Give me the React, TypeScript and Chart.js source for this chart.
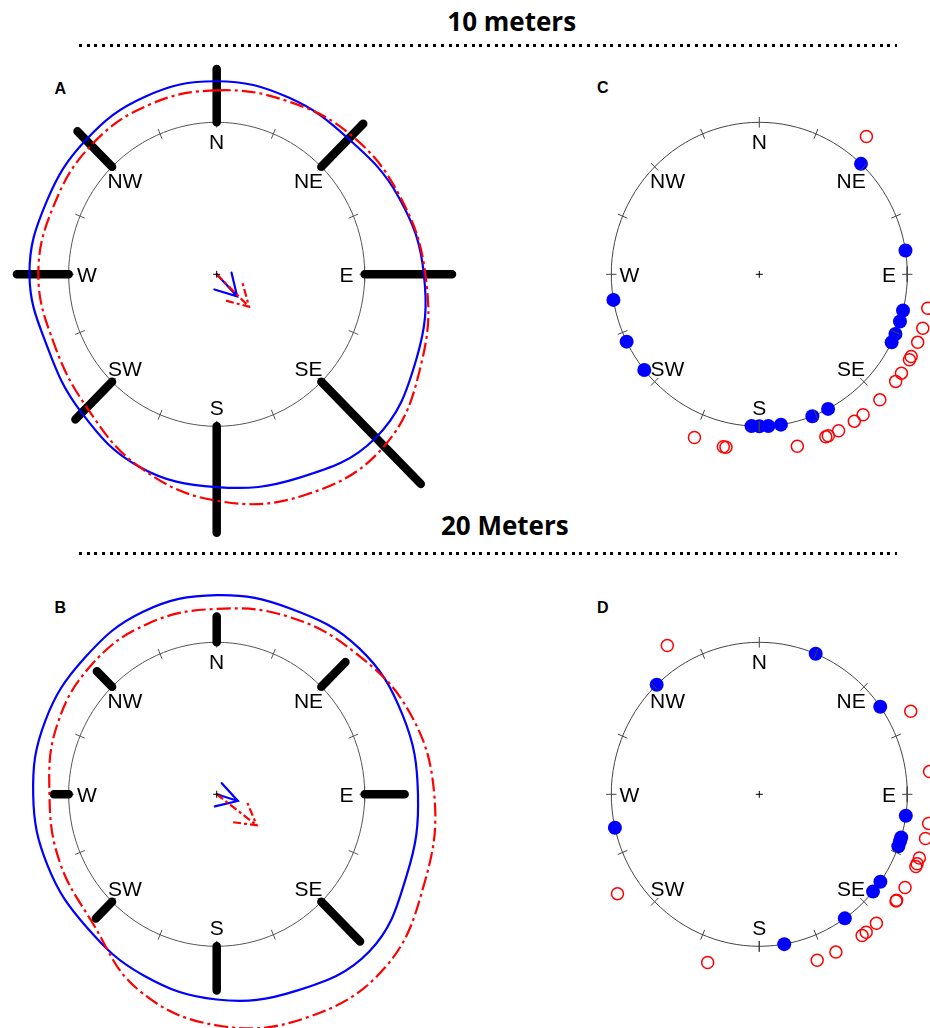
import React, { useEffect, useRef } from "react";
import { Chart, registerables } from "chart.js";

Chart.register(...registerables);

// ---------------- data ----------------
const compassLabels = ["N", "NE", "E", "SE", "S", "SW", "W", "NW"];
const compassBearings = [0, 45, 90, 135, 180, 225, 270, 315];
const tickBearings = [0, 22.5, 45, 67.5, 90, 112.5, 135, 157.5, 180, 202.5, 225, 247.5, 270, 292.5, 315, 337.5];
const curveBearings = [0, 22.5, 45, 67.5, 90, 112.5, 135, 157.5, 180, 202.5, 225, 247.5, 270, 292.5, 315, 337.5];

// Panel A (10 m): rose bar lengths beyond the unit circle, kernel densities, mean vectors
const roseA = [0.35, 0.4, 0.59, 0.95, 0.7, 0.35, 0.35, 0.33];
const blueDensityA = [1.27, 1.26, 1.26, 1.33, 1.4, 1.46, 1.52, 1.45, 1.4, 1.37, 1.29, 1.24, 1.265, 1.245, 1.25, 1.265];
const redDensityA = [1.21, 1.235, 1.29, 1.34, 1.41, 1.5, 1.6, 1.57, 1.49, 1.37, 1.24, 1.19, 1.205, 1.19, 1.2, 1.205];
const meanBearingsA = [136.4, 134.3]; // blue, red
const meanLengthsA = [0.2, 0.305];

// Panel B (20 m)
const roseB = [0.17, 0.23, 0.27, 0.37, 0.29, 0.155, 0.1, 0.145];
const blueDensityB = [1.31, 1.32, 1.36, 1.36, 1.36, 1.39, 1.46, 1.4, 1.35, 1.29, 1.24, 1.235, 1.24, 1.255, 1.265, 1.3];
const redDensityB = [1.22, 1.265, 1.32, 1.41, 1.47, 1.52, 1.61, 1.59, 1.52, 1.39, 1.19, 1.15, 1.13, 1.17, 1.2, 1.215];
const meanBearingsB = [107, 127];
const meanLengthsB = [0.15, 0.338];

// Panel C (10 m): raw directions
const blueDirsC = [43.4, 81, 103.8, 108.1, 113.1, 116.6, 152.3, 159, 171.6, 176.5, 180, 183, 231, 243.7, 260.3];
const redDirsC = [38.6, 101.1, 107.8, 112.7, 117.8, 119, 124.1, 127.4, 135.4, 142.8, 146.4, 152.5, 156.3, 157.2, 167.2, 191.2, 192.1, 202.2];

// Panel D (20 m)
const blueDirsD = [22.4, 54.8, 98.1, 106.5, 108, 110, 125.1, 129.8, 144.7, 170.3, 257.3, 316.1];
const redDirsD = [61.9, 82.6, 99.5, 104.5, 111.2, 113.2, 114.2, 121.9, 126.9, 127.2, 137, 141.5, 143.2, 153.5, 160.3, 197.5, 235.7, 327.6];

const outerRingRadius = 1.16;

// ---------------- helpers ----------------
const RX = 148;
const RY = 152;
const BLUE = "#0000ff";
const RED = "#ff0000";
const RED_DASH = [14, 4, 3, 4];

const rad = (b: number) => (b * Math.PI) / 180;
const pol = (b: number, r: number) => ({ x: r * Math.sin(rad(b)), y: r * Math.cos(rad(b)) });
const GAP = { x: NaN, y: NaN };

function circlePts() {
  const pts: any[] = [];
  for (let b = 0; b <= 360; b += 3) pts.push(pol(b, 1));
  return pts;
}
function tickPts() {
  const pts: any[] = [];
  tickBearings.forEach((b) => {
    pts.push(pol(b, 0.965), pol(b, 1.035), GAP);
  });
  return pts;
}
function rosePts(lengths: number[]) {
  const pts: any[] = [];
  compassBearings.forEach((b, i) => {
    pts.push(pol(b, 1), pol(b, 1 + lengths[i]), GAP);
  });
  return pts;
}
function curvePts(radii: number[]) {
  return curveBearings.map((b, i) => pol(b, radii[i]));
}
function arrowPts(bearing: number, length: number) {
  const tip = pol(bearing, length);
  const a1 = pol(bearing + 180 - 30, 0.16);
  const a2 = pol(bearing + 180 + 30, 0.16);
  return [
    { x: 0, y: 0 },
    tip,
    GAP,
    { x: tip.x + a1.x, y: tip.y + a1.y },
    tip,
    { x: tip.x + a2.x, y: tip.y + a2.y },
  ];
}

function lineDs(data: any[], color: string, width: number, extra: any = {}) {
  return {
    data,
    borderColor: color,
    backgroundColor: color,
    borderWidth: width,
    pointRadius: 0,
    pointHoverRadius: 0,
    fill: false,
    tension: 0,
    ...extra,
  };
}

function centerDs() {
  return {
    data: [{ x: 0, y: 0 }],
    showLine: false,
    pointStyle: "cross",
    pointRadius: 3.5,
    pointBorderColor: "#000",
    pointBorderWidth: 1,
    pointBackgroundColor: "#000",
  };
}

function roseDatasets(rose: number[], blueD: number[], redD: number[], mb: number[], ml: number[]) {
  return [
    lineDs(circlePts(), "#555", 1),
    lineDs(tickPts(), "#555", 1),
    lineDs(rosePts(rose), "#000", 8.5, { borderCapStyle: "round" }),
    lineDs(curvePts(blueD), BLUE, 2.2, { tension: 0.4, closed: true }),
    lineDs(curvePts(redD), RED, 2.2, { tension: 0.4, closed: true, borderDash: RED_DASH }),
    lineDs(arrowPts(mb[0], ml[0]), BLUE, 2.2, { borderCapStyle: "round" }),
    lineDs(arrowPts(mb[1], ml[1]), RED, 2.2, { borderDash: [8, 3, 3, 3] }),
    centerDs(),
  ];
}

function pointDatasets(blueDirs: number[], redDirs: number[]) {
  return [
    lineDs(circlePts(), "#444", 1),
    {
      data: redDirs.map((b) => pol(b, outerRingRadius)),
      showLine: false,
      pointRadius: 6,
      pointHoverRadius: 6,
      pointBackgroundColor: "rgba(0,0,0,0)",
      pointBorderColor: RED,
      pointBorderWidth: 1.5,
    },
    {
      data: blueDirs.map((b) => pol(b, 1)),
      showLine: false,
      pointRadius: 7,
      pointHoverRadius: 7,
      pointBackgroundColor: BLUE,
      pointBorderColor: BLUE,
      pointBorderWidth: 0,
    },
    lineDs(tickPts(), "#444", 1),
    centerDs(),
  ];
}

const loopPlugin = {
  id: "closedLoops",
  afterDatasetsUpdate(chart: any) {
    chart.data.datasets.forEach((ds: any, i: number) => {
      if (ds.closed) {
        const line = chart.getDatasetMeta(i).dataset;
        if (line) {
          line._loop = true;
          line._fullLoop = true;
          line._pointsUpdated = false;
          line._path = undefined;
          line._segments = undefined;
        }
      }
    });
  },
};

const labelPlugin = {
  id: "compassLabels",
  beforeDatasetsDraw(chart: any) {
    const ctx = chart.ctx;
    const xs = chart.scales.x;
    const ys = chart.scales.y;
    const size = 21;
    ctx.save();
    ctx.font = `${size}px "Liberation Sans", Arial, Helvetica, sans-serif`;
    ctx.fillStyle = "#000";
    ctx.textAlign = "center";
    ctx.textBaseline = "alphabetic";
    compassLabels.forEach((lab, i) => {
      const p = pol(compassBearings[i], 0.877);
      ctx.fillText(lab, xs.getPixelForValue(p.x), ys.getPixelForValue(p.y) + size * 0.716 * 0.5);
    });
    ctx.restore();
  },
};

type Spec = { left: number; top: number; w: number; h: number; cx: number; cy: number; kind: string };

const panels: Spec[] = [
  { kind: "A", left: 0, top: 50, w: 470, h: 500, cx: 216.7, cy: 274.3 },
  { kind: "B", left: 0, top: 570, w: 470, h: 458, cx: 216.7, cy: 794.3 },
  { kind: "C", left: 580, top: 60, w: 350, h: 420, cx: 759.3, cy: 274.3 },
  { kind: "D", left: 580, top: 580, w: 350, h: 440, cx: 759.3, cy: 794.3 },
];

function datasetsFor(kind: string) {
  let ds: any[];
  if (kind === "A") ds = roseDatasets(roseA, blueDensityA, redDensityA, meanBearingsA, meanLengthsA);
  else if (kind === "B") ds = roseDatasets(roseB, blueDensityB, redDensityB, meanBearingsB, meanLengthsB);
  else if (kind === "C") ds = pointDatasets(blueDirsC, redDirsC);
  else ds = pointDatasets(blueDirsD, redDirsD);
  // array order = drawing order (first drawn at the bottom)
  return ds.map((d, i) => ({ ...d, order: ds.length - i }));
}

function PolarPanel({ spec }: { spec: Spec }) {
  const ref = useRef<HTMLCanvasElement | null>(null);
  useEffect(() => {
    if (!ref.current) return;
    const chart = new Chart(ref.current, {
      type: "line",
      data: { datasets: datasetsFor(spec.kind) as any },
      options: {
        animation: false,
        responsive: false,
        maintainAspectRatio: false,
        devicePixelRatio: 1,
        events: [],
        layout: { padding: 0, autoPadding: false } as any,
        elements: { line: { capBezierPoints: false } as any },
        plugins: {
          legend: { display: false },
          tooltip: { enabled: false },
          title: { display: false },
        },
        scales: {
          x: {
            type: "linear",
            display: false,
            min: -(spec.cx - spec.left) / RX,
            max: (spec.left + spec.w - spec.cx) / RX,
          },
          y: {
            type: "linear",
            display: false,
            min: -(spec.top + spec.h - spec.cy) / RY,
            max: (spec.cy - spec.top) / RY,
          },
        },
      } as any,
      plugins: [loopPlugin as any, labelPlugin as any],
    });
    return () => chart.destroy();
  }, [spec]);
  return (
    <canvas
      ref={ref}
      width={spec.w}
      height={spec.h}
      style={{ position: "absolute", left: spec.left, top: spec.top, width: spec.w, height: spec.h }}
    />
  );
}

const titleStyle: React.CSSProperties = {
  position: "absolute",
  transform: "translateX(-50%)",
  fontFamily: '"Open Sans", "Noto Sans", sans-serif',
  fontWeight: 700,
  fontSize: 26,
  lineHeight: "26px",
  whiteSpace: "nowrap",
  color: "#000",
};

const letterStyle: React.CSSProperties = {
  position: "absolute",
  transform: "translateX(-50%)",
  fontFamily: '"Liberation Sans", Arial, sans-serif',
  fontWeight: 700,
  fontSize: 16,
  lineHeight: "16px",
  color: "#000",
};

const dotted: React.CSSProperties = {
  position: "absolute",
  left: 79,
  width: 818,
  height: 3,
  backgroundImage: "repeating-linear-gradient(to right, #000 0px, #000 3px, transparent 3px, transparent 7.7px)",
};

export default function App() {
  return (
    <div style={{ position: "absolute", left: 0, top: 0, width: 930, height: 1028, overflow: "hidden", background: "#fff" }}>
      <div style={{ ...titleStyle, left: 511.7, top: 7.6 }}>10 meters</div>
      <div style={{ ...dotted, top: 44 }} />
      <div style={{ ...titleStyle, left: 504.8, top: 512 }}>20 Meters</div>
      <div style={{ ...dotted, top: 552 }} />
      <div style={{ ...letterStyle, left: 60.3, top: 80.5 }}>A</div>
      <div style={{ ...letterStyle, left: 602.7, top: 80 }}>C</div>
      <div style={{ ...letterStyle, left: 60.3, top: 600 }}>B</div>
      <div style={{ ...letterStyle, left: 602.7, top: 600 }}>D</div>
      {panels.map((p) => (
        <PolarPanel key={p.kind} spec={p} />
      ))}
    </div>
  );
}
